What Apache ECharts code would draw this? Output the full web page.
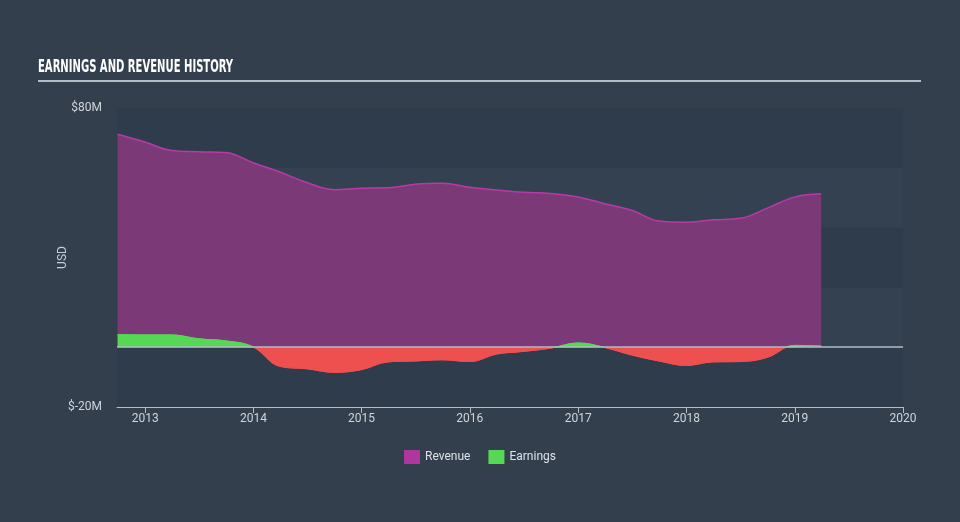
<!DOCTYPE html>
<html>
<head>
<meta charset="utf-8">
<script src="https://cdn.jsdelivr.net/npm/echarts@6/dist/echarts.min.js"></script>
<style>
html,body{margin:0;padding:0;background:#333f4d;}
#chart{width:960px;height:522px;}
</style>
</head>
<body>
<div id="chart"></div>
<script>
var dates = ['2012-09-30','2012-12-31','2013-03-31','2013-06-30','2013-09-30','2013-12-31',
  '2014-03-31','2014-06-30','2014-09-30','2014-12-31','2015-03-31','2015-06-30','2015-09-30','2015-12-31',
  '2016-03-31','2016-06-30','2016-09-30','2016-12-31','2017-03-31','2017-06-30','2017-09-30','2017-12-31',
  '2018-03-31','2018-06-30','2018-09-30','2018-12-31','2019-03-31'];
var revenue = [71.2,68.6,65.8,65.4,65.1,61.7,58.6,55.1,52.7,53.2,53.3,54.5,54.8,53.5,
  52.6,51.8,51.4,50.2,48.0,45.8,42.2,41.8,42.6,43.1,46.5,50.2,51.3];
var earnings = [4.2,4.1,4.1,2.8,2.1,0.1,-6.4,-7.2,-8.4,-7.5,-4.9,-4.6,-4.2,-4.8,
  -2.3,-1.4,-0.3,1.4,-0.1,-2.6,-4.6,-6.1,-4.9,-4.8,-3.4,0.6,0.4];
var seriesNames = ['Revenue','Earnings'];
var yTickLabels = {'80':'$80M','-20':'$-20M'};
var yMin = -20, yMax = 80;

var POS = '#55d955', NEG = '#ee5050';

var chart = echarts.init(document.getElementById('chart'));
var revData = dates.map(function(d,i){return [d, revenue[i]];});
var earnData = dates.map(function(d,i){return [d, earnings[i]];});

chart.setOption({
  backgroundColor: '#333f4d',
  animation: false,
  graphic: [
    {
      type:'text', x:38, y:58, scaleX:0.62, scaleY:1,
      style:{text:'EARNINGS AND REVENUE HISTORY', fill:'#ffffff',
        font:'bold 18px "DejaVu Sans Condensed"'}
    },
    {
      type:'rect', shape:{x:38, y:80, width:883, height:2},
      style:{fill:'#b5bcc4'}
    }
  ],
  legend: {
    data: seriesNames,
    bottom: 53, left: 'center',
    icon: 'rect', itemWidth: 16, itemHeight: 14, itemGap: 18,
    textStyle: {color:'#dde2e8', fontSize:12, fontFamily:'Roboto'}
  },
  grid: {left:117, right:57, top:108, bottom:115},
  xAxis: {
    type:'time',
    min: '2012-09-28', max: '2020-01-01',
    minInterval: 365*24*3600*1000, maxInterval: 366*24*3600*1000,
    axisLine:{onZero:false, lineStyle:{color:'#b5bcc4', width:1}},
    axisTick:{show:true, length:6, lineStyle:{color:'#b5bcc4'}},
    axisLabel:{color:'#d0d5db', fontSize:12, fontFamily:'Roboto', formatter:'{yyyy}', showMinLabel:false, showMaxLabel:true, margin:6},
    splitLine:{show:false}
  },
  yAxis: {
    type:'value', min:yMin, max:yMax, interval:20,
    name:'USD', nameLocation:'middle', nameGap:48, nameMoveOverlap:false,
    nameTextStyle:{color:'#c8cdd3', fontSize:12, fontFamily:'Roboto'},
    axisLine:{show:false}, axisTick:{show:false},
    axisLabel:{color:'#d0d5db', fontSize:12, fontFamily:'Roboto', margin:15,
      formatter:function(v){ return yTickLabels[String(v)] || ''; }},
    splitLine:{show:false},
    splitArea:{show:true, areaStyle:{color:['#2e3c4b','#334150']}}
  },
  series: [
    {
      name:'Revenue', type:'line', data:revData, smooth:0.4, symbol:'none',
      itemStyle:{color:'#b0369f'},
      lineStyle:{color:'#b83aa8', width:1.5},
      areaStyle:{color:'#7b3977', opacity:1},
      z:2
    },
    {
      name:'Earnings', type:'line', data:earnData, smooth:0.4, symbol:'none',
      itemStyle:{color:POS},
      lineStyle:{width:1, color:POS},
      areaStyle:{opacity:1, color:POS},
      markLine:{silent:true, symbol:'none', label:{show:false},
        lineStyle:{color:'#b5bcc4', type:'solid', width:1.5},
        data:[{yAxis:0}]},
      z:3
    }
  ]
});

// colour earnings by sign using the axis' own scale
var pTop = chart.convertToPixel({yAxisIndex:0}, yMax);
var pZero = chart.convertToPixel({yAxisIndex:0}, 0);
var pBot = chart.convertToPixel({yAxisIndex:0}, yMin);
var off = (pZero - pTop) / (pBot - pTop);
function signGrad(){
  return new echarts.graphic.LinearGradient(0, pTop, 0, pBot, [
    {offset:0, color:POS},{offset:off, color:POS},
    {offset:off, color:NEG},{offset:1, color:NEG}
  ], true);
}
chart.setOption({
  series: [{}, {
    lineStyle:{color:signGrad()},
    areaStyle:{color:signGrad()}
  }]
});
</script>
</body>
</html>
